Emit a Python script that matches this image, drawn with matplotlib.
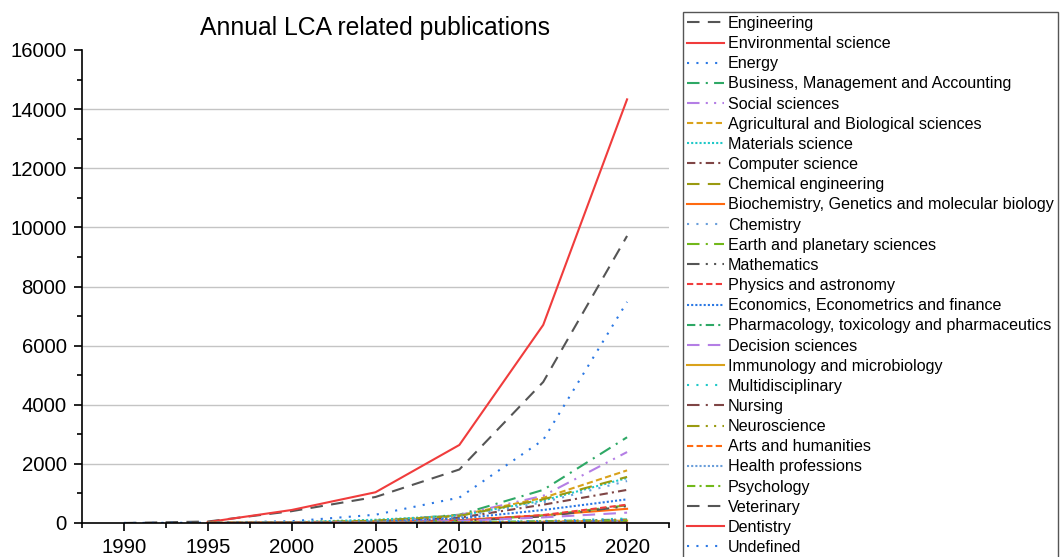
import numpy as np
import matplotlib
matplotlib.use("Agg")
import matplotlib.pyplot as plt
from matplotlib.ticker import MultipleLocator

plt.rcParams['font.family'] = ['Liberation Sans', 'DejaVu Sans']

years = [1990, 1995, 2000, 2005, 2010, 2015, 2020]
nan = np.nan

categories = [
    "Engineering", "Environmental science", "Energy",
    "Business, Management and Accounting", "Social sciences",
    "Agricultural and Biological sciences", "Materials science",
    "Computer science", "Chemical engineering",
    "Biochemistry, Genetics and molecular biology", "Chemistry",
    "Earth and planetary sciences", "Mathematics", "Physics and astronomy",
    "Economics, Econometrics and finance",
    "Pharmacology, toxicology and pharmaceutics", "Decision sciences",
    "Immunology and microbiology", "Multidisciplinary", "Nursing",
    "Neuroscience", "Arts and humanities", "Health professions",
    "Psychology", "Veterinary", "Dentistry", "Undefined",
]

engineering = [0, 50, 400, 880, 1810, 4770, 9710]
environmental = [nan, 30, 440, 1040, 2640, 6700, 14330]
energy = [0, 10, 60, 280, 860, 2810, 7480]
business = [nan, 0, 10, 60, 280, 1120, 2900]
social = [nan, 0, 10, 60, 270, 920, 2400]
agricultural = [nan, 5, 20, 70, 260, 850, 1780]
materials = [nan, 5, 30, 110, 250, 760, 1520]
computer = [nan, 0, 10, 40, 180, 620, 1120]
chemical_eng = [nan, 5, 20, 80, 240, 800, 1560]
biochem = [nan, 0, 10, 30, 100, 260, 480]
chemistry = [nan, 0, 15, 60, 200, 700, 1420]
earth = [nan, 0, 5, 20, 80, 250, 600]
mathematics = [nan, 0, 5, 20, 70, 220, 570]
physics = [nan, 0, 5, 20, 80, 270, 620]
economics = [nan, 0, 10, 40, 150, 440, 800]
pharmacology = [nan, 0, 2, 10, 30, 60, 120]
decision = [nan, 0, 5, 20, 70, 190, 350]
immunology = [nan, 0, 1, 5, 15, 40, 80]
multidisciplinary = [nan, 0, 5, 15, 30, 70, 150]
nursing = [nan, 0, 0, 2, 5, 15, 30]
neuroscience = [nan, 0, 0, 2, 5, 10, 20]
arts = [nan, 0, 1, 5, 15, 40, 90]
health = [nan, 0, 1, 3, 10, 30, 60]
psychology = [nan, 0, 1, 5, 15, 40, 70]
veterinary = [nan, 0, 0, 1, 3, 8, 15]
dentistry = [nan, 0, 0, 0, 1, 3, 5]
undefined = [0, 0, 5, 10, 20, 40, 100]

series = [engineering, environmental, energy, business, social, agricultural,
          materials, computer, chemical_eng, biochem, chemistry, earth,
          mathematics, physics, economics, pharmacology, decision, immunology,
          multidisciplinary, nursing, neuroscience, arts, health, psychology,
          veterinary, dentistry, undefined]

palette = ["#555555", "#F03C3C", "#2B78E4", "#2EA865", "#B47EE5", "#D9A21B",
           "#1FC8C8", "#7F4545", "#9A9A10", "#FF6A10", "#6A9EDA", "#72B81A"]

LD = (0, (6, 4))
SOL = '-'
DOT = (0, (1, 3.5))
DD = (0, (6, 3, 1, 3))
DDD = (0, (6, 3, 1, 3, 1, 3))
SD = (0, (3, 1.6))
SDOT = (0, (1, 1))
DDS = (0, (4, 2, 1, 2))

styles = [LD, SOL, DOT, DD, DDD, SD, SDOT, DDS, LD, SOL, DOT, DD,
          DDD, SD, SDOT, DDS, LD, SOL, DOT, DD, DDD, SD, SDOT, DDS,
          LD, SOL, DOT]

fig = plt.figure(figsize=(10.62, 5.57), dpi=100)
ax = fig.add_axes([82 / 1062, 1 - 523 / 557, (669 - 82) / 1062, (523 - 50) / 557])

yticks = [0, 2000, 4000, 6000, 8000, 10000, 12000, 14000, 16000]
ax.hlines(yticks[1:-1], 1987.5, 2022.5, colors="#C4C4C4", linewidth=1.0, zorder=1)

for i, (name, vals) in enumerate(zip(categories, series)):
    ax.plot(years, vals, color=palette[i % len(palette)], linestyle=styles[i],
            linewidth=1.5, label=name, zorder=3)

ax.set_xlim(1987.5, 2022.5)
ax.set_ylim(0, 16000)
ax.set_yticks(yticks)
ax.set_xticks([1990, 1995, 2000, 2005, 2010, 2015, 2020])
ax.xaxis.set_minor_locator(MultipleLocator(2.5))
ax.yaxis.set_minor_locator(MultipleLocator(1000))
for s in ['top', 'right']:
    ax.spines[s].set_visible(False)
for s in ['left', 'bottom']:
    ax.spines[s].set_linewidth(1.2)
    ax.spines[s].set_zorder(4)
ax.tick_params(which='major', direction='out', length=6, width=1.2,
               labelsize=14.7, pad=5)
ax.tick_params(which='minor', direction='out', length=3.5, width=1.2)

ax.set_title("Annual LCA related publications", fontsize=17.8, pad=11)

leg = fig.legend(loc='upper left', bbox_to_anchor=(683 / 1062, 1 - 12 / 557),
                 fontsize=11.6, frameon=True, fancybox=False, framealpha=1,
                 borderpad=0.25, handlelength=2.3, handletextpad=0.22,
                 labelspacing=0.32, borderaxespad=0)
leg.get_frame().set_edgecolor("#555555")
leg.get_frame().set_linewidth(1.0)

fig.savefig("out.png", dpi=100)
